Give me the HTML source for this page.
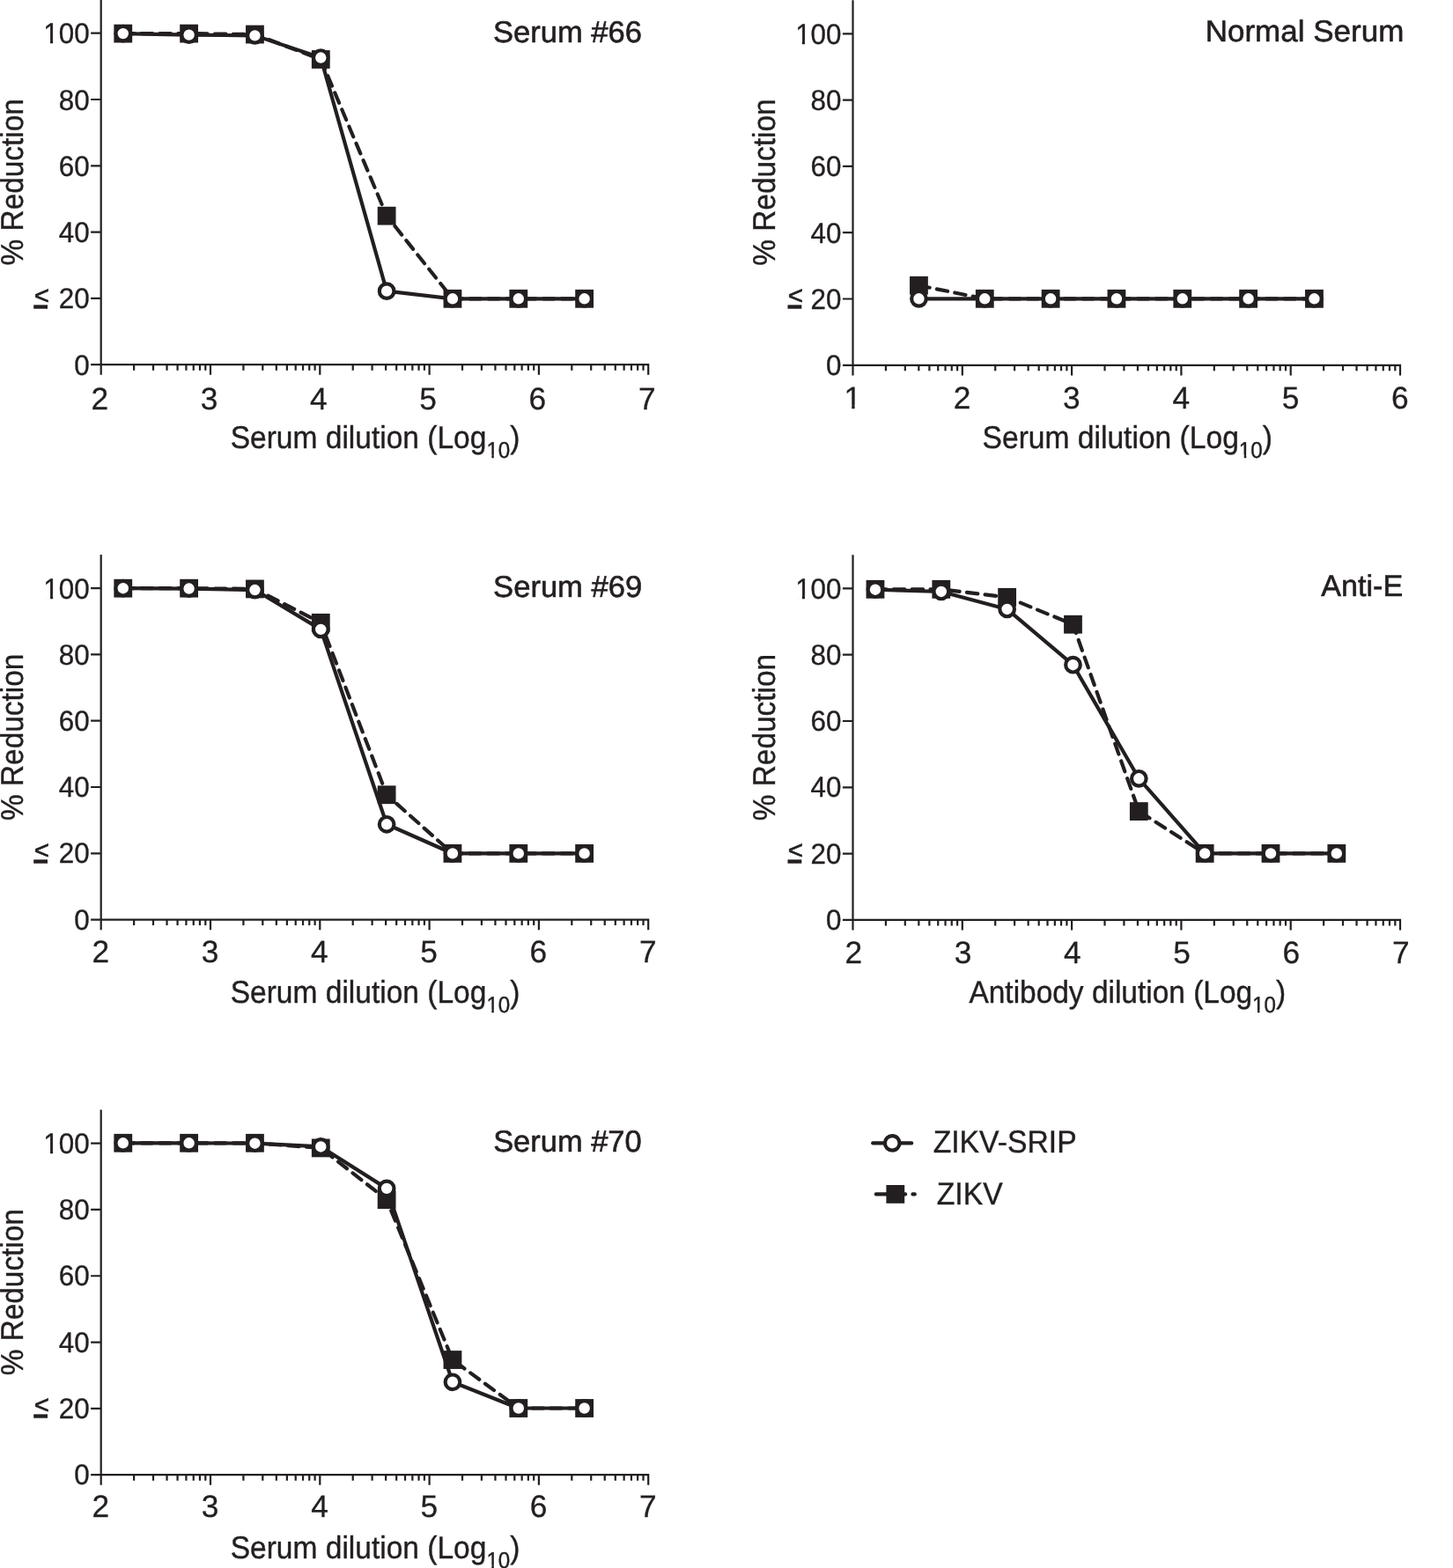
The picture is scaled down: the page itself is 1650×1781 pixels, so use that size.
<!DOCTYPE html>
<html lang="en">
<head>
<meta charset="utf-8">
<title>ZIKV-SRIP vs ZIKV neutralization curves</title>
<style>
html,body{margin:0;padding:0;background:#fff;}
body{width:1650px;height:1781px;overflow:hidden;}
svg{display:block;}
text{font-family:"Liberation Sans", Arial, Helvetica, sans-serif;fill:#231f20;}
.tk{font-size:32.7px;stroke:#231f20;stroke-width:.35px;}
.le{font-size:31px;stroke:#231f20;stroke-width:.6px;}
.tx{font-size:35.3px;stroke:#231f20;stroke-width:.3px;}
.t{font-size:35.8px;stroke:#231f20;stroke-width:.4px;}
.sub{font-size:25.8px;}
.ti{font-size:34.2px;stroke:#231f20;stroke-width:.6px;}
.ax{fill:none;stroke:#231f20;stroke-width:2.2;stroke-linecap:butt;}
.sl{fill:none;stroke:#231f20;stroke-width:4.17;stroke-linecap:round;stroke-linejoin:round;}
.dl{fill:none;stroke:#231f20;stroke-width:4.17;stroke-linecap:round;stroke-linejoin:round;stroke-dasharray:12.5 8.33;}
.k{fill:#231f20;}
.w{fill:#fff;}
.c{fill:#fff;stroke:#231f20;stroke-width:4.17;}
</style>
</head>
<body>
<svg width="1650" height="1781" viewBox="0 0 1650 1781" text-rendering="geometricPrecision">
<rect width="1650" height="1781" fill="#fff"/>
<g id="p1">
<path class="ax" d="M114.7 0V425.8M103.1 414.2H737.3M103.1 338.9H114.7M103.1 263.6H114.7M103.1 188.3H114.7M103.1 113H114.7M103.1 37.7H114.7M239 414.2V425.8M363.3 414.2V425.8M487.6 414.2V425.8M611.9 414.2V425.8M736.2 414.2V425.8"/>
<path class="ax" d="M152.12 414.2V420.7M174.01 414.2V420.7M189.54 414.2V420.7M201.58 414.2V420.7M211.42 414.2V420.7M219.75 414.2V420.7M226.95 414.2V420.7M233.31 414.2V420.7M276.42 414.2V420.7M298.31 414.2V420.7M313.84 414.2V420.7M325.88 414.2V420.7M335.72 414.2V420.7M344.05 414.2V420.7M351.25 414.2V420.7M357.61 414.2V420.7M400.72 414.2V420.7M422.61 414.2V420.7M438.14 414.2V420.7M450.18 414.2V420.7M460.02 414.2V420.7M468.35 414.2V420.7M475.55 414.2V420.7M481.91 414.2V420.7M525.02 414.2V420.7M546.91 414.2V420.7M562.44 414.2V420.7M574.48 414.2V420.7M584.32 414.2V420.7M592.65 414.2V420.7M599.85 414.2V420.7M606.21 414.2V420.7M649.32 414.2V420.7M671.21 414.2V420.7M686.74 414.2V420.7M698.78 414.2V420.7M708.62 414.2V420.7M716.95 414.2V420.7M724.15 414.2V420.7M730.51 414.2V420.7"/>
<text class="tk" text-anchor="end" transform="translate(101.7 425.9) scale(0.96 1)">0</text>
<text class="tk" text-anchor="end" transform="translate(101.7 350) scale(0.96 1)">20</text>
<text class="tk" text-anchor="end" transform="translate(101.7 275.3) scale(0.96 1)">40</text>
<text class="tk" text-anchor="end" transform="translate(101.7 200) scale(0.96 1)">60</text>
<text class="tk" text-anchor="end" transform="translate(101.7 124.7) scale(0.96 1)">80</text>
<text class="tk" text-anchor="end" transform="translate(101.7 49.4) scale(0.96 1)">100</text>
<g transform="translate(101.7 49.4) scale(0.96 1)"><rect class="w" x="-53.44" y="-3.62" width="6.93" height="4.99"/><rect class="w" x="-43.27" y="-3.62" width="6.68" height="4.99"/></g>
<clipPath id="p1_c"><rect x="31.15" y="321.9" width="30" height="21.7"/></clipPath>
<g clip-path="url(#p1_c)"><text class="le" text-anchor="start" transform="translate(39.3 346.9) scale(.96 1)">≤</text></g>
<rect class="k" x="38.2" y="346.35" width="15.8" height="4.35"/>
<text class="tx" text-anchor="middle" transform="translate(113.2 464.5) scale(1 1)">2</text>
<text class="tx" text-anchor="middle" transform="translate(237.5 464.5) scale(1 1)">3</text>
<text class="tx" text-anchor="middle" transform="translate(361.8 464.5) scale(1 1)">4</text>
<text class="tx" text-anchor="middle" transform="translate(486.1 464.5) scale(1 1)">5</text>
<text class="tx" text-anchor="middle" transform="translate(610.4 464.5) scale(1 1)">6</text>
<text class="tx" text-anchor="middle" transform="translate(734.7 464.5) scale(1 1)">7</text>
<text id="p1_xt" class="t" text-anchor="middle" transform="translate(426.06 508.7) scale(0.9367 1)">Serum dilution (Log<tspan class="sub" dy="11.0">10</tspan><tspan dy="-11.0">)</tspan></text>
<g transform="translate(426.06 508.7) scale(0.9367 1)"><rect class="w" x="135.46" y="7.87" width="5.72" height="4.53"/><rect class="w" x="143.87" y="7.87" width="5.52" height="4.53"/></g>
<text id="p1_yt" class="t" text-anchor="middle" transform="translate(25.75 206.78) rotate(-90) scale(0.9328 1)">% Reduction</text>
<text id="p1_ti" class="ti" text-anchor="end" transform="translate(728.97 47.5) scale(1.0098 1)">Serum #66</text>
<polyline class="dl" points="139.77,38.1 214.61,38.1 289.44,39.04 364.28,67.47 439.12,245.18 513.95,339.3 588.79,339.3 663.62,339.3"/>
<rect class="k" x="129.37" y="27.7" width="20.8" height="20.8"/>
<rect class="k" x="204.21" y="27.7" width="20.8" height="20.8"/>
<rect class="k" x="279.04" y="28.64" width="20.8" height="20.8"/>
<rect class="k" x="353.88" y="57.07" width="20.8" height="20.8"/>
<rect class="k" x="428.72" y="234.78" width="20.8" height="20.8"/>
<rect class="k" x="503.55" y="328.9" width="20.8" height="20.8"/>
<rect class="k" x="578.39" y="328.9" width="20.8" height="20.8"/>
<rect class="k" x="653.22" y="328.9" width="20.8" height="20.8"/>
<polyline class="sl" points="139.77,38.1 214.61,39.61 289.44,40.36 364.28,65.58 439.12,330.64 513.95,339.3 588.79,339.3 663.62,339.3"/>
<circle class="c" cx="139.77" cy="38.1" r="8.3"/>
<circle class="c" cx="214.61" cy="39.61" r="8.3"/>
<circle class="c" cx="289.44" cy="40.36" r="8.3"/>
<circle class="c" cx="364.28" cy="65.58" r="8.3"/>
<circle class="c" cx="439.12" cy="330.64" r="8.3"/>
<circle class="c" cx="513.95" cy="339.3" r="8.3"/>
<circle class="c" cx="588.79" cy="339.3" r="8.3"/>
<circle class="c" cx="663.62" cy="339.3" r="8.3"/>
</g>
<g id="p2">
<path class="ax" d="M968.5 0.15V426.4M956.9 414.8H1591.1M956.9 339.5H968.5M956.9 264.2H968.5M956.9 188.9H968.5M956.9 113.6H968.5M956.9 38.3H968.5M1092.8 414.8V426.4M1217.1 414.8V426.4M1341.4 414.8V426.4M1465.7 414.8V426.4M1590 414.8V426.4"/>
<path class="ax" d="M1005.92 414.8V421.3M1027.81 414.8V421.3M1043.34 414.8V421.3M1055.38 414.8V421.3M1065.22 414.8V421.3M1073.55 414.8V421.3M1080.75 414.8V421.3M1087.11 414.8V421.3M1130.22 414.8V421.3M1152.11 414.8V421.3M1167.64 414.8V421.3M1179.68 414.8V421.3M1189.52 414.8V421.3M1197.85 414.8V421.3M1205.05 414.8V421.3M1211.41 414.8V421.3M1254.52 414.8V421.3M1276.41 414.8V421.3M1291.94 414.8V421.3M1303.98 414.8V421.3M1313.82 414.8V421.3M1322.15 414.8V421.3M1329.35 414.8V421.3M1335.71 414.8V421.3M1378.82 414.8V421.3M1400.71 414.8V421.3M1416.24 414.8V421.3M1428.28 414.8V421.3M1438.12 414.8V421.3M1446.45 414.8V421.3M1453.65 414.8V421.3M1460.01 414.8V421.3M1503.12 414.8V421.3M1525.01 414.8V421.3M1540.54 414.8V421.3M1552.58 414.8V421.3M1562.42 414.8V421.3M1570.75 414.8V421.3M1577.95 414.8V421.3M1584.31 414.8V421.3"/>
<text class="tk" text-anchor="end" transform="translate(955.5 426.2) scale(0.96 1)">0</text>
<text class="tk" text-anchor="end" transform="translate(955.5 350.6) scale(0.96 1)">20</text>
<text class="tk" text-anchor="end" transform="translate(955.5 275.6) scale(0.96 1)">40</text>
<text class="tk" text-anchor="end" transform="translate(955.5 200.3) scale(0.96 1)">60</text>
<text class="tk" text-anchor="end" transform="translate(955.5 125) scale(0.96 1)">80</text>
<text class="tk" text-anchor="end" transform="translate(955.5 49.7) scale(0.96 1)">100</text>
<g transform="translate(955.5 49.7) scale(0.96 1)"><rect class="w" x="-53.44" y="-3.62" width="6.93" height="4.99"/><rect class="w" x="-43.27" y="-3.62" width="6.68" height="4.99"/></g>
<clipPath id="p2_c"><rect x="887.15" y="321.9" width="30" height="21.7"/></clipPath>
<g clip-path="url(#p2_c)"><text class="le" text-anchor="start" transform="translate(895.3 346.9) scale(.96 1)">≤</text></g>
<rect class="k" x="894.5" y="346.35" width="15.8" height="4.35"/>
<text class="tx" text-anchor="middle" transform="translate(968.3 463.7) scale(1 1)">1</text>
<g transform="translate(968.3 463.7) scale(1 1)"><rect class="w" x="-8.48" y="-3.79" width="7.39" height="5.14"/><rect class="w" x="2.33" y="-3.79" width="7.11" height="5.14"/></g>
<text class="tx" text-anchor="middle" transform="translate(1092.6 463.7) scale(1 1)">2</text>
<text class="tx" text-anchor="middle" transform="translate(1216.9 463.7) scale(1 1)">3</text>
<text class="tx" text-anchor="middle" transform="translate(1341.2 463.7) scale(1 1)">4</text>
<text class="tx" text-anchor="middle" transform="translate(1465.5 463.7) scale(1 1)">5</text>
<text class="tx" text-anchor="middle" transform="translate(1589.8 463.7) scale(1 1)">6</text>
<text id="p2_xt" class="t" text-anchor="middle" transform="translate(1280.26 508.8) scale(0.9384 1)">Serum dilution (Log<tspan class="sub" dy="11.0">10</tspan><tspan dy="-11.0">)</tspan></text>
<g transform="translate(1280.26 508.8) scale(0.9384 1)"><rect class="w" x="135.46" y="7.87" width="5.72" height="4.53"/><rect class="w" x="143.87" y="7.87" width="5.52" height="4.53"/></g>
<text id="p2_yt" class="t" text-anchor="middle" transform="translate(879.55 207.1) rotate(-90) scale(0.9321 1)">% Reduction</text>
<text id="p2_ti" class="ti" text-anchor="end" transform="translate(1594.32 47) scale(1.0237 1)">Normal Serum</text>
<polyline class="dl" points="1043.44,324.24 1118.27,339.3 1193.11,339.3 1267.94,339.3 1342.78,339.3 1417.62,339.3 1492.45,339.3"/>
<rect class="k" x="1033.04" y="313.84" width="20.8" height="20.8"/>
<rect class="k" x="1107.87" y="328.9" width="20.8" height="20.8"/>
<rect class="k" x="1182.71" y="328.9" width="20.8" height="20.8"/>
<rect class="k" x="1257.54" y="328.9" width="20.8" height="20.8"/>
<rect class="k" x="1332.38" y="328.9" width="20.8" height="20.8"/>
<rect class="k" x="1407.22" y="328.9" width="20.8" height="20.8"/>
<rect class="k" x="1482.05" y="328.9" width="20.8" height="20.8"/>
<polyline class="sl" points="1043.44,339.3 1118.27,339.3 1193.11,339.3 1267.94,339.3 1342.78,339.3 1417.62,339.3 1492.45,339.3"/>
<circle class="c" cx="1043.44" cy="339.3" r="8.3"/>
<circle class="c" cx="1118.27" cy="339.3" r="8.3"/>
<circle class="c" cx="1193.11" cy="339.3" r="8.3"/>
<circle class="c" cx="1267.94" cy="339.3" r="8.3"/>
<circle class="c" cx="1342.78" cy="339.3" r="8.3"/>
<circle class="c" cx="1417.62" cy="339.3" r="8.3"/>
<circle class="c" cx="1492.45" cy="339.3" r="8.3"/>
</g>
<g id="p3">
<path class="ax" d="M114.7 629.95V1056.2M103.1 1044.6H737.3M103.1 969.3H114.7M103.1 894H114.7M103.1 818.7H114.7M103.1 743.4H114.7M103.1 668.1H114.7M239 1044.6V1056.2M363.3 1044.6V1056.2M487.6 1044.6V1056.2M611.9 1044.6V1056.2M736.2 1044.6V1056.2"/>
<path class="ax" d="M152.12 1044.6V1051.1M174.01 1044.6V1051.1M189.54 1044.6V1051.1M201.58 1044.6V1051.1M211.42 1044.6V1051.1M219.75 1044.6V1051.1M226.95 1044.6V1051.1M233.31 1044.6V1051.1M276.42 1044.6V1051.1M298.31 1044.6V1051.1M313.84 1044.6V1051.1M325.88 1044.6V1051.1M335.72 1044.6V1051.1M344.05 1044.6V1051.1M351.25 1044.6V1051.1M357.61 1044.6V1051.1M400.72 1044.6V1051.1M422.61 1044.6V1051.1M438.14 1044.6V1051.1M450.18 1044.6V1051.1M460.02 1044.6V1051.1M468.35 1044.6V1051.1M475.55 1044.6V1051.1M481.91 1044.6V1051.1M525.02 1044.6V1051.1M546.91 1044.6V1051.1M562.44 1044.6V1051.1M574.48 1044.6V1051.1M584.32 1044.6V1051.1M592.65 1044.6V1051.1M599.85 1044.6V1051.1M606.21 1044.6V1051.1M649.32 1044.6V1051.1M671.21 1044.6V1051.1M686.74 1044.6V1051.1M698.78 1044.6V1051.1M708.62 1044.6V1051.1M716.95 1044.6V1051.1M724.15 1044.6V1051.1M730.51 1044.6V1051.1"/>
<text class="tk" text-anchor="end" transform="translate(101.7 1056) scale(0.96 1)">0</text>
<text class="tk" text-anchor="end" transform="translate(101.7 980.4) scale(0.96 1)">20</text>
<text class="tk" text-anchor="end" transform="translate(101.7 905.4) scale(0.96 1)">40</text>
<text class="tk" text-anchor="end" transform="translate(101.7 830.1) scale(0.96 1)">60</text>
<text class="tk" text-anchor="end" transform="translate(101.7 754.8) scale(0.96 1)">80</text>
<text class="tk" text-anchor="end" transform="translate(101.7 679.5) scale(0.96 1)">100</text>
<g transform="translate(101.7 679.5) scale(0.96 1)"><rect class="w" x="-53.44" y="-3.62" width="6.93" height="4.99"/><rect class="w" x="-43.27" y="-3.62" width="6.68" height="4.99"/></g>
<clipPath id="p3_c"><rect x="31.15" y="951.9" width="30" height="21.7"/></clipPath>
<g clip-path="url(#p3_c)"><text class="le" text-anchor="start" transform="translate(39.3 976.9) scale(.96 1)">≤</text></g>
<rect class="k" x="38.2" y="976.35" width="15.8" height="4.35"/>
<text class="tx" text-anchor="middle" transform="translate(114.2 1092.9) scale(1 1)">2</text>
<text class="tx" text-anchor="middle" transform="translate(238.5 1092.9) scale(1 1)">3</text>
<text class="tx" text-anchor="middle" transform="translate(362.8 1092.9) scale(1 1)">4</text>
<text class="tx" text-anchor="middle" transform="translate(487.1 1092.9) scale(1 1)">5</text>
<text class="tx" text-anchor="middle" transform="translate(611.4 1092.9) scale(1 1)">6</text>
<text class="tx" text-anchor="middle" transform="translate(735.7 1092.9) scale(1 1)">7</text>
<text id="p3_xt" class="t" text-anchor="middle" transform="translate(426.06 1139) scale(0.9367 1)">Serum dilution (Log<tspan class="sub" dy="11.0">10</tspan><tspan dy="-11.0">)</tspan></text>
<g transform="translate(426.06 1139) scale(0.9367 1)"><rect class="w" x="135.46" y="7.87" width="5.72" height="4.53"/><rect class="w" x="143.87" y="7.87" width="5.52" height="4.53"/></g>
<text id="p3_yt" class="t" text-anchor="middle" transform="translate(25.75 837.31) rotate(-90) scale(0.9324 1)">% Reduction</text>
<text id="p3_ti" class="ti" text-anchor="end" transform="translate(729.15 677.5) scale(1.0108 1)">Serum #69</text>
<polyline class="dl" points="139.77,668.2 214.61,668.2 289.44,668.95 364.28,707.36 439.12,902.76 513.95,969.4 588.79,969.4 663.62,969.4"/>
<rect class="k" x="129.37" y="657.8" width="20.8" height="20.8"/>
<rect class="k" x="204.21" y="657.8" width="20.8" height="20.8"/>
<rect class="k" x="279.04" y="658.55" width="20.8" height="20.8"/>
<rect class="k" x="353.88" y="696.96" width="20.8" height="20.8"/>
<rect class="k" x="428.72" y="892.36" width="20.8" height="20.8"/>
<rect class="k" x="503.55" y="959" width="20.8" height="20.8"/>
<rect class="k" x="578.39" y="959" width="20.8" height="20.8"/>
<rect class="k" x="653.22" y="959" width="20.8" height="20.8"/>
<polyline class="sl" points="139.77,668.2 214.61,668.58 289.44,670.08 364.28,714.89 439.12,936.27 513.95,969.4 588.79,969.4 663.62,969.4"/>
<circle class="c" cx="139.77" cy="668.2" r="8.3"/>
<circle class="c" cx="214.61" cy="668.58" r="8.3"/>
<circle class="c" cx="289.44" cy="670.08" r="8.3"/>
<circle class="c" cx="364.28" cy="714.89" r="8.3"/>
<circle class="c" cx="439.12" cy="936.27" r="8.3"/>
<circle class="c" cx="513.95" cy="969.4" r="8.3"/>
<circle class="c" cx="588.79" cy="969.4" r="8.3"/>
<circle class="c" cx="663.62" cy="969.4" r="8.3"/>
</g>
<g id="p4">
<path class="ax" d="M968.5 630.25V1056.5M956.9 1044.9H1591.1M956.9 969.6H968.5M956.9 894.3H968.5M956.9 819H968.5M956.9 743.7H968.5M956.9 668.4H968.5M1092.8 1044.9V1056.5M1217.1 1044.9V1056.5M1341.4 1044.9V1056.5M1465.7 1044.9V1056.5M1590 1044.9V1056.5"/>
<path class="ax" d="M1005.92 1044.9V1051.4M1027.81 1044.9V1051.4M1043.34 1044.9V1051.4M1055.38 1044.9V1051.4M1065.22 1044.9V1051.4M1073.55 1044.9V1051.4M1080.75 1044.9V1051.4M1087.11 1044.9V1051.4M1130.22 1044.9V1051.4M1152.11 1044.9V1051.4M1167.64 1044.9V1051.4M1179.68 1044.9V1051.4M1189.52 1044.9V1051.4M1197.85 1044.9V1051.4M1205.05 1044.9V1051.4M1211.41 1044.9V1051.4M1254.52 1044.9V1051.4M1276.41 1044.9V1051.4M1291.94 1044.9V1051.4M1303.98 1044.9V1051.4M1313.82 1044.9V1051.4M1322.15 1044.9V1051.4M1329.35 1044.9V1051.4M1335.71 1044.9V1051.4M1378.82 1044.9V1051.4M1400.71 1044.9V1051.4M1416.24 1044.9V1051.4M1428.28 1044.9V1051.4M1438.12 1044.9V1051.4M1446.45 1044.9V1051.4M1453.65 1044.9V1051.4M1460.01 1044.9V1051.4M1503.12 1044.9V1051.4M1525.01 1044.9V1051.4M1540.54 1044.9V1051.4M1552.58 1044.9V1051.4M1562.42 1044.9V1051.4M1570.75 1044.9V1051.4M1577.95 1044.9V1051.4M1584.31 1044.9V1051.4"/>
<text class="tk" text-anchor="end" transform="translate(955.5 1056) scale(0.96 1)">0</text>
<text class="tk" text-anchor="end" transform="translate(955.5 980.7) scale(0.96 1)">20</text>
<text class="tk" text-anchor="end" transform="translate(955.5 905.4) scale(0.96 1)">40</text>
<text class="tk" text-anchor="end" transform="translate(955.5 830.1) scale(0.96 1)">60</text>
<text class="tk" text-anchor="end" transform="translate(955.5 754.8) scale(0.96 1)">80</text>
<text class="tk" text-anchor="end" transform="translate(955.5 679.5) scale(0.96 1)">100</text>
<g transform="translate(955.5 679.5) scale(0.96 1)"><rect class="w" x="-53.44" y="-3.62" width="6.93" height="4.99"/><rect class="w" x="-43.27" y="-3.62" width="6.68" height="4.99"/></g>
<clipPath id="p4_c"><rect x="887.15" y="951.9" width="30" height="21.7"/></clipPath>
<g clip-path="url(#p4_c)"><text class="le" text-anchor="start" transform="translate(895.3 976.9) scale(.96 1)">≤</text></g>
<rect class="k" x="894.5" y="976.35" width="15.8" height="4.35"/>
<text class="tx" text-anchor="middle" transform="translate(969.2 1093.85) scale(1 1)">2</text>
<text class="tx" text-anchor="middle" transform="translate(1093.5 1093.85) scale(1 1)">3</text>
<text class="tx" text-anchor="middle" transform="translate(1217.8 1093.85) scale(1 1)">4</text>
<text class="tx" text-anchor="middle" transform="translate(1342.1 1093.85) scale(1 1)">5</text>
<text class="tx" text-anchor="middle" transform="translate(1466.4 1093.85) scale(1 1)">6</text>
<text class="tx" text-anchor="middle" transform="translate(1590.7 1093.85) scale(1 1)">7</text>
<text id="p4_xt" class="t" text-anchor="middle" transform="translate(1280.24 1139.15) scale(0.9343 1)">Antibody dilution (Log<tspan class="sub" dy="11.0">10</tspan><tspan dy="-11.0">)</tspan></text>
<g transform="translate(1280.24 1139.15) scale(0.9343 1)"><rect class="w" x="152.4" y="7.87" width="5.72" height="4.53"/><rect class="w" x="160.8" y="7.87" width="5.52" height="4.53"/></g>
<text id="p4_yt" class="t" text-anchor="middle" transform="translate(879.55 837.58) rotate(-90) scale(0.933 1)">% Reduction</text>
<text id="p4_ti" class="ti" text-anchor="end" transform="translate(1593.16 677) scale(0.9976 1)">Anti-E</text>
<polyline class="dl" points="993.97,669.33 1068.81,669.33 1143.64,678.37 1218.48,709.24 1293.32,921.58 1368.15,969.4 1442.99,969.4 1517.82,969.4"/>
<rect class="k" x="983.57" y="658.93" width="20.8" height="20.8"/>
<rect class="k" x="1058.41" y="658.93" width="20.8" height="20.8"/>
<rect class="k" x="1133.24" y="667.97" width="20.8" height="20.8"/>
<rect class="k" x="1208.08" y="698.84" width="20.8" height="20.8"/>
<rect class="k" x="1282.92" y="911.18" width="20.8" height="20.8"/>
<rect class="k" x="1357.75" y="959" width="20.8" height="20.8"/>
<rect class="k" x="1432.59" y="959" width="20.8" height="20.8"/>
<rect class="k" x="1507.42" y="959" width="20.8" height="20.8"/>
<polyline class="sl" points="993.97,669.71 1068.81,671.97 1143.64,691.92 1218.48,755.17 1293.32,884.31 1368.15,969.4 1442.99,969.4 1517.82,969.4"/>
<circle class="c" cx="993.97" cy="669.71" r="8.3"/>
<circle class="c" cx="1068.81" cy="671.97" r="8.3"/>
<circle class="c" cx="1143.64" cy="691.92" r="8.3"/>
<circle class="c" cx="1218.48" cy="755.17" r="8.3"/>
<circle class="c" cx="1293.32" cy="884.31" r="8.3"/>
<circle class="c" cx="1368.15" cy="969.4" r="8.3"/>
<circle class="c" cx="1442.99" cy="969.4" r="8.3"/>
<circle class="c" cx="1517.82" cy="969.4" r="8.3"/>
</g>
<g id="p5">
<path class="ax" d="M114.7 1260.5V1686.75M103.1 1675.15H737.3M103.1 1599.85H114.7M103.1 1524.55H114.7M103.1 1449.25H114.7M103.1 1373.95H114.7M103.1 1298.65H114.7M239 1675.15V1686.75M363.3 1675.15V1686.75M487.6 1675.15V1686.75M611.9 1675.15V1686.75M736.2 1675.15V1686.75"/>
<path class="ax" d="M152.12 1675.15V1681.65M174.01 1675.15V1681.65M189.54 1675.15V1681.65M201.58 1675.15V1681.65M211.42 1675.15V1681.65M219.75 1675.15V1681.65M226.95 1675.15V1681.65M233.31 1675.15V1681.65M276.42 1675.15V1681.65M298.31 1675.15V1681.65M313.84 1675.15V1681.65M325.88 1675.15V1681.65M335.72 1675.15V1681.65M344.05 1675.15V1681.65M351.25 1675.15V1681.65M357.61 1675.15V1681.65M400.72 1675.15V1681.65M422.61 1675.15V1681.65M438.14 1675.15V1681.65M450.18 1675.15V1681.65M460.02 1675.15V1681.65M468.35 1675.15V1681.65M475.55 1675.15V1681.65M481.91 1675.15V1681.65M525.02 1675.15V1681.65M546.91 1675.15V1681.65M562.44 1675.15V1681.65M574.48 1675.15V1681.65M584.32 1675.15V1681.65M592.65 1675.15V1681.65M599.85 1675.15V1681.65M606.21 1675.15V1681.65M649.32 1675.15V1681.65M671.21 1675.15V1681.65M686.74 1675.15V1681.65M698.78 1675.15V1681.65M708.62 1675.15V1681.65M716.95 1675.15V1681.65M724.15 1675.15V1681.65M730.51 1675.15V1681.65"/>
<text class="tk" text-anchor="end" transform="translate(101.7 1686.1) scale(0.96 1)">0</text>
<text class="tk" text-anchor="end" transform="translate(101.7 1610.95) scale(0.96 1)">20</text>
<text class="tk" text-anchor="end" transform="translate(101.7 1535.5) scale(0.96 1)">40</text>
<text class="tk" text-anchor="end" transform="translate(101.7 1460.2) scale(0.96 1)">60</text>
<text class="tk" text-anchor="end" transform="translate(101.7 1384.9) scale(0.96 1)">80</text>
<text class="tk" text-anchor="end" transform="translate(101.7 1309.6) scale(0.96 1)">100</text>
<g transform="translate(101.7 1309.6) scale(0.96 1)"><rect class="w" x="-53.44" y="-3.62" width="6.93" height="4.99"/><rect class="w" x="-43.27" y="-3.62" width="6.68" height="4.99"/></g>
<clipPath id="p5_c"><rect x="31.15" y="1581.9" width="30" height="21.7"/></clipPath>
<g clip-path="url(#p5_c)"><text class="le" text-anchor="start" transform="translate(39.3 1606.9) scale(.96 1)">≤</text></g>
<rect class="k" x="38.2" y="1606.35" width="15.8" height="4.35"/>
<text class="tx" text-anchor="middle" transform="translate(114.35 1723.25) scale(1 1)">2</text>
<text class="tx" text-anchor="middle" transform="translate(238.65 1723.25) scale(1 1)">3</text>
<text class="tx" text-anchor="middle" transform="translate(362.95 1723.25) scale(1 1)">4</text>
<text class="tx" text-anchor="middle" transform="translate(487.25 1723.25) scale(1 1)">5</text>
<text class="tx" text-anchor="middle" transform="translate(611.55 1723.25) scale(1 1)">6</text>
<text class="tx" text-anchor="middle" transform="translate(735.85 1723.25) scale(1 1)">7</text>
<text id="p5_xt" class="t" text-anchor="middle" transform="translate(426.06 1769.6) scale(0.9367 1)">Serum dilution (Log<tspan class="sub" dy="11.0">10</tspan><tspan dy="-11.0">)</tspan></text>
<g transform="translate(426.06 1769.6) scale(0.9367 1)"><rect class="w" x="135.46" y="7.87" width="5.72" height="4.53"/><rect class="w" x="143.87" y="7.87" width="5.52" height="4.53"/></g>
<text id="p5_yt" class="t" text-anchor="middle" transform="translate(25.75 1467.68) rotate(-90) scale(0.9319 1)">% Reduction</text>
<text id="p5_ti" class="ti" text-anchor="end" transform="translate(728.59 1307.5) scale(1.0072 1)">Serum #70</text>
<polyline class="dl" points="139.77,1298.3 214.61,1298.3 289.44,1298.3 364.28,1303.95 439.12,1362.68 513.95,1544.53 588.79,1599.5 663.62,1599.5"/>
<rect class="k" x="129.37" y="1287.9" width="20.8" height="20.8"/>
<rect class="k" x="204.21" y="1287.9" width="20.8" height="20.8"/>
<rect class="k" x="279.04" y="1287.9" width="20.8" height="20.8"/>
<rect class="k" x="353.88" y="1293.55" width="20.8" height="20.8"/>
<rect class="k" x="428.72" y="1352.28" width="20.8" height="20.8"/>
<rect class="k" x="503.55" y="1534.13" width="20.8" height="20.8"/>
<rect class="k" x="578.39" y="1589.1" width="20.8" height="20.8"/>
<rect class="k" x="653.22" y="1589.1" width="20.8" height="20.8"/>
<polyline class="sl" points="139.77,1298.3 214.61,1298.3 289.44,1298.68 364.28,1302.44 439.12,1349.88 513.95,1569.76 588.79,1599.5 663.62,1599.5"/>
<circle class="c" cx="139.77" cy="1298.3" r="8.3"/>
<circle class="c" cx="214.61" cy="1298.3" r="8.3"/>
<circle class="c" cx="289.44" cy="1298.68" r="8.3"/>
<circle class="c" cx="364.28" cy="1302.44" r="8.3"/>
<circle class="c" cx="439.12" cy="1349.88" r="8.3"/>
<circle class="c" cx="513.95" cy="1569.76" r="8.3"/>
<circle class="c" cx="588.79" cy="1599.5" r="8.3"/>
<circle class="c" cx="663.62" cy="1599.5" r="8.3"/>
</g>
<g id="legend">
<path class="sl" d="M991.2 1298.4H1035.2"/>
<circle class="c" cx="1013.2" cy="1298.4" r="8.3"/>
<text id="lg1" class="t" text-anchor="start" transform="translate(1059.63 1309.3) scale(0.9418 1)">ZIKV-SRIP</text>
<path class="dl" d="M994.8 1356.4H1038.8"/>
<rect class="k" x="1006.4" y="1346" width="20.8" height="20.8"/>
<text id="lg2" class="t" text-anchor="start" transform="translate(1063.7 1367.5) scale(0.9422 1)">ZIKV</text>
</g>
</svg>
</body>
</html>
